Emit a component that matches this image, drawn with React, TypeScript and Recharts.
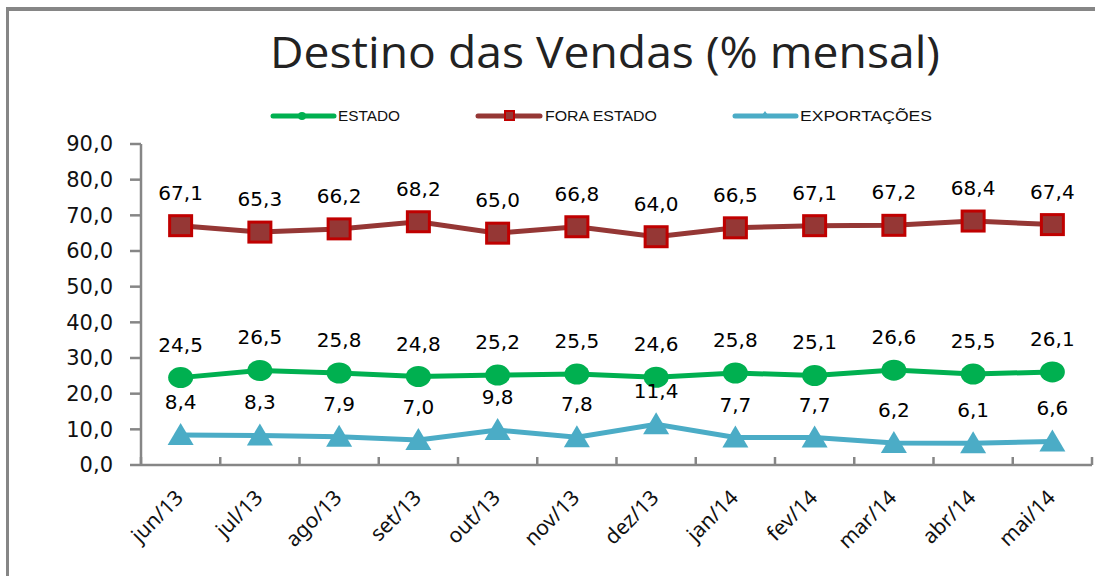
import { LineChart, Line, XAxis, YAxis, LabelList } from "recharts";

const months = ["jun/13", "jul/13", "ago/13", "set/13", "out/13", "nov/13", "dez/13", "jan/14", "fev/14", "mar/14", "abr/14", "mai/14"];
const estado = [24.5, 26.5, 25.8, 24.8, 25.2, 25.5, 24.6, 25.8, 25.1, 26.6, 25.5, 26.1];
const foraEstado = [67.1, 65.3, 66.2, 68.2, 65.0, 66.8, 64.0, 66.5, 67.1, 67.2, 68.4, 67.4];
const exportacoes = [8.4, 8.3, 7.9, 7.0, 9.8, 7.8, 11.4, 7.7, 7.7, 6.2, 6.1, 6.6];
const yTicks = [0, 10, 20, 30, 40, 50, 60, 70, 80, 90];

const data = months.map((m, i) => ({
  month: m,
  estado: estado[i],
  fora: foraEstado[i],
  exp: exportacoes[i],
}));

const AXIS = "#868686";
const GREEN = "#00b050";
const BROWN = "#953735";
const RED = "#c00000";
const BLUE = "#4bacc6";

const PLOT_W = 951;
const HALF_BAND = PLOT_W / months.length / 2;

const fmt = (v: number) => v.toFixed(1).replace(".", ",");

const CircleDot = (p: any) => {
  if (p.cx == null) return null;
  return <ellipse key={p.index} cx={p.cx} cy={p.cy} rx={12.5} ry={10.5} fill={GREEN} />;
};

const SquareDot = (p: any) => {
  if (p.cx == null) return null;
  return (
    <rect key={p.index} x={p.cx - 11} y={p.cy - 10} width={22} height={20}
      fill={BROWN} stroke={RED} strokeWidth={3} />
  );
};

const TriangleDot = (p: any) => {
  if (p.cx == null) return null;
  const { cx, cy } = p;
  return (
    <polygon key={p.index}
      points={`${cx},${cy - 12} ${cx + 13},${cy + 10} ${cx - 13},${cy + 10}`}
      fill={BLUE} />
  );
};

const ValueLabel = (p: any) => {
  const { x, y, value } = p;
  return (
    <text x={x} y={y - 26} textAnchor="middle" fontSize={20}
      fontFamily="DejaVu Sans" fill="#000">
      {fmt(value)}
    </text>
  );
};

const MonthTick = (p: any) => {
  const { x, y, payload, index } = p;
  const tx = x + 4;
  const ty = y + 34;
  return (
    <g>
      <line x1={x - HALF_BAND} x2={x - HALF_BAND} y1={y} y2={y - 8} stroke={AXIS} strokeWidth={2.5} />
      {index === months.length - 1 && (
        <line x1={x + HALF_BAND} x2={x + HALF_BAND} y1={y} y2={y - 8} stroke={AXIS} strokeWidth={2.5} />
      )}
      <text x={tx} y={ty} textAnchor="end" fontSize={21}
        fontFamily="Noto Sans" fill="#111" transform={`rotate(-45 ${tx} ${ty})`}>
        {payload.value}
      </text>
    </g>
  );
};

function Overlay() {
  return (
    <svg width={1095} height={576}
      style={{ position: "absolute", left: 0, top: 0, pointerEvents: "none" }}>
      <rect x={1084} y={11} width={11} height={24} fill="#fff" />
      <text x={605} y={68} textAnchor="middle" fontSize={44} fontFamily="Open Sans"
        fontWeight={500} fill="#222" textLength={670} lengthAdjust="spacingAndGlyphs">
        Destino das Vendas (% mensal)
      </text>

      <line x1={273} x2={334} y1={116} y2={116} stroke={GREEN} strokeWidth={5} strokeLinecap="round" />
      <ellipse cx={302} cy={116} rx={4} ry={4} fill={GREEN} />
      <text x={338} y={121} fontSize={14} fontFamily="Liberation Sans Narrow, Liberation Sans"
        fill="#111" textLength={62} lengthAdjust="spacingAndGlyphs">ESTADO</text>

      <line x1={478} x2={540} y1={116} y2={116} stroke={BROWN} strokeWidth={5} strokeLinecap="round" />
      <rect x={505} y={111} width={9} height={9} fill={BROWN} stroke={RED} strokeWidth={2} />
      <text x={545} y={121} fontSize={14} fontFamily="Liberation Sans Narrow, Liberation Sans"
        fill="#111" textLength={112} lengthAdjust="spacingAndGlyphs">FORA ESTADO</text>

      <line x1={735} x2={796} y1={116} y2={116} stroke={BLUE} strokeWidth={5} strokeLinecap="round" />
      <polygon points="765,111 770,118 760,118" fill={BLUE} />
      <text x={800} y={121} fontSize={14} fontFamily="Liberation Sans Narrow, Liberation Sans"
        fill="#111" textLength={132} lengthAdjust="spacingAndGlyphs">EXPORTAÇÕES</text>
    </svg>
  );
}

export default function App() {
  return (
    <div style={{ position: "absolute", left: 0, top: 0, width: 1095, height: 576, background: "#fff", overflow: "hidden" }}>
      <div
        style={{
          position: "absolute",
          left: 6,
          top: 7,
          width: 1086,
          height: 565,
          borderTop: `4px solid ${AXIS}`,
          borderLeft: `3px solid ${AXIS}`,
        }}
      >
        <LineChart width={1086} height={565} data={data}
          margin={{ top: 133, right: 3, left: 0, bottom: 0 }}>
          <XAxis dataKey="month" height={111} padding={{ left: HALF_BAND, right: HALF_BAND }}
            axisLine={{ stroke: AXIS, strokeWidth: 2.5 }} tickLine={false} tickSize={0}
            tickMargin={0} interval={0} tick={<MonthTick />} />
          <YAxis width={132} domain={[0, 90]} ticks={yTicks} interval={0}
            tickFormatter={fmt} axisLine={{ stroke: AXIS, strokeWidth: 2.5 }}
            tickLine={{ stroke: AXIS, strokeWidth: 2.5 }} tickSize={11} tickMargin={17}
            tick={{ fontSize: 21, fontFamily: "DejaVu Sans", fill: "#111" }} />
          <Line dataKey="fora" stroke={BROWN} strokeWidth={5} dot={<SquareDot />}
            isAnimationActive={false}>
            <LabelList dataKey="fora" content={<ValueLabel />} />
          </Line>
          <Line dataKey="estado" stroke={GREEN} strokeWidth={5} dot={<CircleDot />}
            isAnimationActive={false}>
            <LabelList dataKey="estado" content={<ValueLabel />} />
          </Line>
          <Line dataKey="exp" stroke={BLUE} strokeWidth={5} dot={<TriangleDot />}
            isAnimationActive={false}>
            <LabelList dataKey="exp" content={<ValueLabel />} />
          </Line>
        </LineChart>
      </div>
      <Overlay />
    </div>
  );
}
